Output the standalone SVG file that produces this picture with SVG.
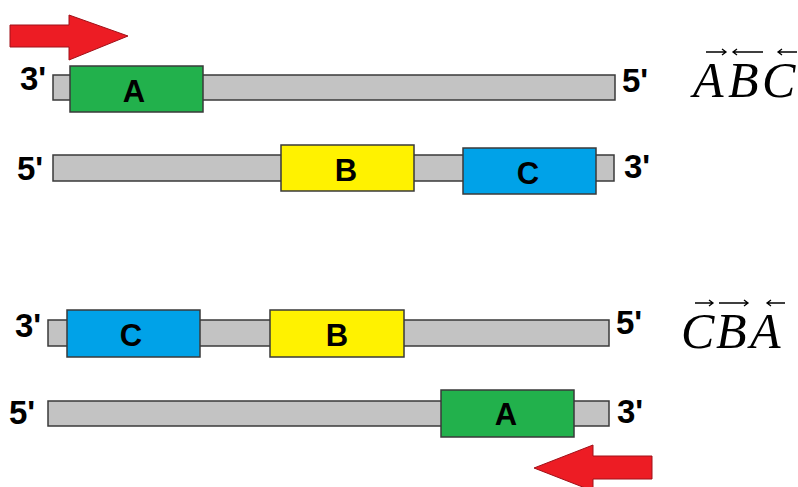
<svg xmlns="http://www.w3.org/2000/svg" width="798" height="487" viewBox="0 0 798 487">
<defs>
<style>
.bar{fill:#c3c3c3;stroke:#3a3a3a;stroke-width:1.5}
.g{fill:#22b14c;stroke:#3a3a3a;stroke-width:1.5}
.y{fill:#fff200;stroke:#3a3a3a;stroke-width:1.5}
.c{fill:#00a2e8;stroke:#3a3a3a;stroke-width:1.5}
.arr{fill:#ed1c24;stroke:#a01018;stroke-width:1}
.end{font-family:"Liberation Sans",Arial,sans-serif;font-weight:bold;font-size:33px;fill:#000}
.lbl{font-family:"Liberation Sans",Arial,sans-serif;font-weight:bold;font-size:31px;fill:#000;text-anchor:middle}
.math{font-family:"Liberation Serif","Times New Roman",serif;font-style:italic;font-size:50px;fill:#000}
.va{stroke:#000;stroke-width:1.3;fill:none}
</style>
</defs>
<g id="arrow-top"><polygon class="arr" points="10,25 69,25 69,15 128,36 69,60 69,47 10,47"/></g>
<g id="strand1">
<rect class="bar" x="53" y="75" width="562" height="25"/>
<text class="end" x="20" y="90">3'</text>
<text class="end" x="622" y="92">5'</text>
</g>
<g id="geneA1"><rect class="g" x="70" y="66" width="133" height="46"/><text class="lbl" x="134" y="102">A</text></g>
<g id="strand2">
<rect class="bar" x="53" y="155" width="561" height="26"/>
<text class="end" x="17" y="180">5'</text>
<text class="end" x="624" y="178">3'</text>
</g>
<g id="geneB1"><rect class="y" x="281" y="145" width="133" height="46"/><text class="lbl" x="346" y="181">B</text></g>
<g id="geneC1"><rect class="c" x="463" y="148" width="133" height="46"/><text class="lbl" x="528" y="184">C</text></g>
<g id="label-ABC">
<text class="math" x="693" y="97">A</text>
<text class="math" x="728" y="97">B</text>
<text class="math" x="762" y="97">C</text>
<path class="va" d="M706,52H726M722,49L726,52L722,55"/>
<path class="va" d="M733,52H763M737,49L733,52L737,55"/>
<path class="va" d="M778,52H797M782,49L778,52L782,55"/>
</g>
<g id="strand3">
<rect class="bar" x="48" y="320" width="561" height="26"/>
<text class="end" x="15" y="337">3'</text>
<text class="end" x="616" y="334">5'</text>
</g>
<g id="geneC2"><rect class="c" x="67" y="310" width="133" height="47"/><text class="lbl" x="131" y="346">C</text></g>
<g id="geneB2"><rect class="y" x="270" y="310" width="134" height="47"/><text class="lbl" x="337" y="346">B</text></g>
<g id="label-CBA">
<text class="math" x="681" y="348">C</text>
<text class="math" x="716" y="348">B</text>
<text class="math" x="750" y="348">A</text>
<path class="va" d="M695,303H713M709,300L713,303L709,306"/>
<path class="va" d="M719,303H748M744,300L748,303L744,306"/>
<path class="va" d="M767,303H785M771,300L767,303L771,306"/>
</g>
<g id="strand4">
<rect class="bar" x="48" y="401" width="561" height="25"/>
<text class="end" x="9" y="424">5'</text>
<text class="end" x="617" y="423">3'</text>
</g>
<g id="geneA2"><rect class="g" x="441" y="390" width="133" height="47"/><text class="lbl" x="506" y="425">A</text></g>
<g id="arrow-bottom"><polygon class="arr" points="652,456 593,456 593,445 534,468 593,491 593,479 652,479"/></g>
</svg>
